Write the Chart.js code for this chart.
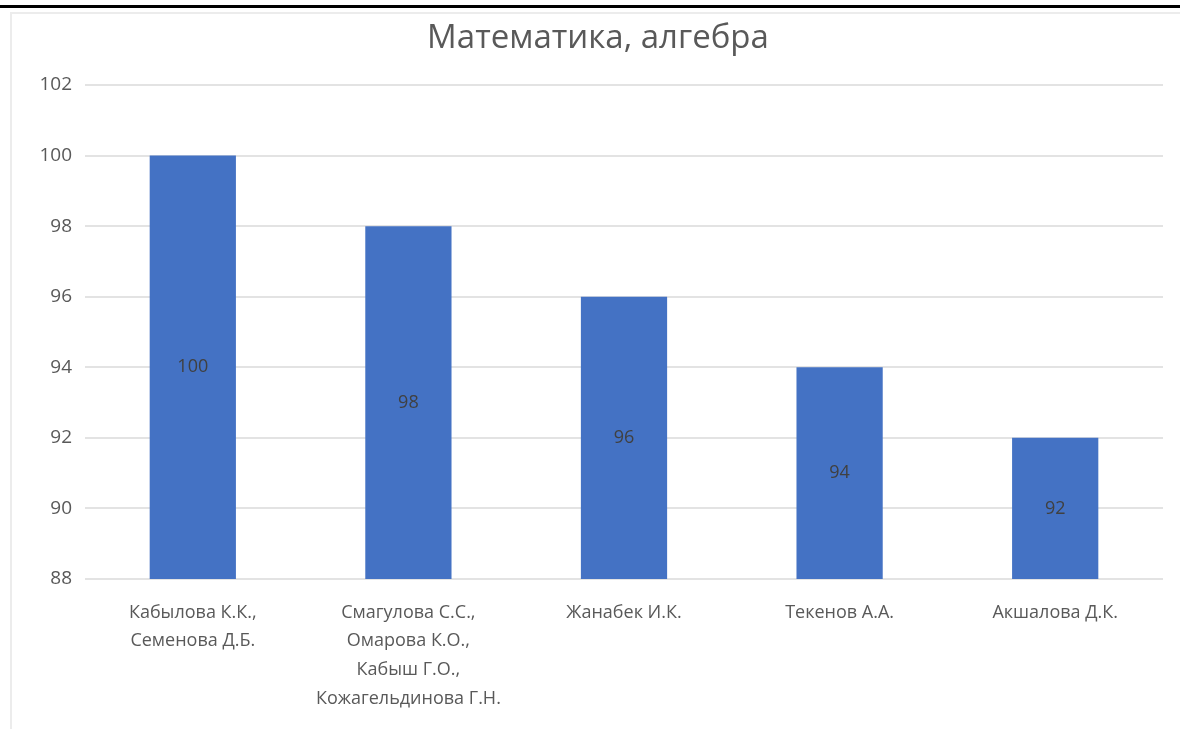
<!DOCTYPE html>
<html>
<head>
<meta charset="utf-8">
<script src="https://cdn.jsdelivr.net/npm/chart.js@4/dist/chart.umd.min.js"></script>
<style>
  html, body { margin: 0; padding: 0; background: #fff; }
  #wrap { position: relative; width: 1180px; height: 729px; overflow: hidden; }
  #topline { position: absolute; left: 0; top: 5px; width: 1180px; height: 3px; background: #000; }
  #frameTop { position: absolute; left: 10px; top: 12px; width: 1170px; height: 2px; background: #ececec; }
  #frameLeft { position: absolute; left: 10px; top: 12px; width: 2px; height: 717px; background: #ececec; }
  canvas { position: absolute; left: 0; top: 0; }
</style>
</head>
<body>
<div id="wrap">
  <canvas id="c" width="1180" height="729"></canvas>
  <div id="topline"></div>
  <div id="frameTop"></div>
  <div id="frameLeft"></div>
</div>
<script>
const chartTitle = "Математика, алгебра";
const categories = [
  ["Кабылова К.К.,", "Семенова Д.Б."],
  ["Смагулова С.С.,", "Омарова К.О.,", "Кабыш Г.О.,", "Кожагельдинова Г.Н."],
  ["Жанабек И.К."],
  ["Текенов А.А."],
  ["Акшалова Д.К."]
];
const scores = [100, 98, 96, 94, 92];
const yMin = 88, yMax = 102, yStep = 2;

const FONT = "'Open Sans', 'Noto Sans', sans-serif";

const barLabels = {
  id: 'barLabels',
  afterDatasetsDraw(chart) {
    const ctx = chart.ctx;
    const meta = chart.getDatasetMeta(0);
    const yScale = chart.scales.y;
    ctx.save();
    ctx.font = "18px " + FONT;
    ctx.fillStyle = "#404040";
    ctx.textAlign = "center";
    ctx.textBaseline = "middle";
    meta.data.forEach((bar, i) => {
      const yTop = yScale.getPixelForValue(scores[i]);
      const yBase = yScale.getPixelForValue(yMin);
      ctx.fillText(String(scores[i]), bar.x, (yTop + yBase) / 2);
    });
    ctx.restore();
  }
};

new Chart(document.getElementById('c'), {
  type: 'bar',
  data: {
    labels: categories,
    datasets: [{
      data: scores,
      backgroundColor: '#4472C4',
      borderWidth: 0,
      barPercentage: 0.4,
      categoryPercentage: 1.0
    }]
  },
  options: {
    responsive: false,
    animation: false,
    devicePixelRatio: 1,
    layout: { padding: { left: 33, right: 17, top: 0, bottom: 0 } },
    plugins: {
      legend: { display: false },
      tooltip: { enabled: false },
      title: {
        display: true,
        text: chartTitle,
        color: '#595959',
        font: { family: FONT, size: 33, weight: 'normal', lineHeight: 1.2 },
        padding: { top: 19, bottom: 26.4 }
      }
    },
    scales: {
      x: {
        grid: { display: false, drawTicks: false },
        border: { display: false },
        ticks: {
          color: '#595959',
          font: { family: FONT, size: 18, lineHeight: 1.6 },
          padding: 19,
          maxRotation: 0,
          minRotation: 0,
          autoSkip: false
        },
        afterFit(axis) { axis.height = 150; }
      },
      y: {
        min: yMin,
        max: yMax,
        grid: { color: '#e3e3e3', lineWidth: 2, drawTicks: false },
        border: { display: false },
        ticks: {
          stepSize: yStep,
          color: '#595959',
          font: { family: FONT, size: 19 },
          padding: 13
        },
        afterFit(axis) { axis.width = 52; }
      }
    }
  },
  plugins: [barLabels]
});
</script>
</body>
</html>
